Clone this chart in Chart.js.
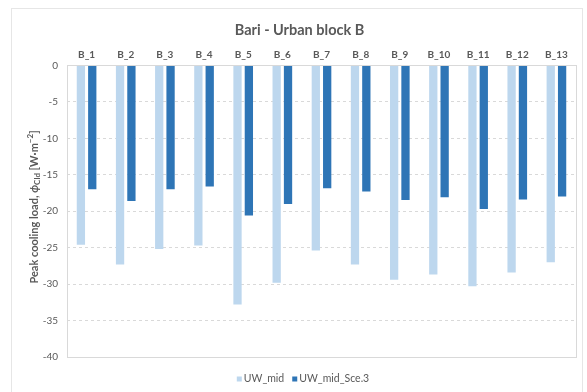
<!DOCTYPE html>
<html>
<head>
<meta charset="utf-8">
<script src="https://cdn.jsdelivr.net/npm/chart.js@4/dist/chart.umd.min.js"></script>
<style>
  html, body { margin: 0; padding: 0; background: #ffffff; }
  #wrap { width: 587px; height: 392px; position: relative; }
</style>
</head>
<body>
<div id="wrap"><canvas id="c" width="587" height="392"></canvas></div>
<script>
const categories = ["B_1","B_2","B_3","B_4","B_5","B_6","B_7","B_8","B_9","B_10","B_11","B_12","B_13"];
const uwMid = [-24.6,-27.3,-25.2,-24.7,-32.8,-29.8,-25.4,-27.3,-29.4,-28.7,-30.3,-28.4,-27.0];
const uwMidSce3 = [-17.0,-18.6,-17.0,-16.6,-20.6,-19.0,-16.85,-17.3,-18.45,-18.1,-19.7,-18.4,-18.0];
const seriesNames = ["UW_mid","UW_mid_Sce.3"];
const seriesColors = ["#BDD7EE","#2E75B6"];
const titleText = "Bari - Urban block B";
const yTicks = [0,-5,-10,-15,-20,-25,-30,-35,-40];

const FONT = "Lato, 'Open Sans', sans-serif";
const GRAY = "#595959";
const GRID = "#D9D9D9";

const framePlugin = {
  id: 'frame',
  beforeDraw(chart) {
    const ctx = chart.ctx;
    ctx.save();
    ctx.fillStyle = '#ffffff';
    ctx.fillRect(0, 0, chart.width, chart.height);
    ctx.strokeStyle = '#E6E6E6';
    ctx.lineWidth = 1;
    ctx.strokeRect(11.5, 8.5, 571, 400);
    ctx.restore();
  },
  afterDatasetsDraw(chart) {
    const a = chart.chartArea;
    const ctx = chart.ctx;
    ctx.save();
    ctx.strokeStyle = GRID;
    ctx.lineWidth = 1;
    ctx.strokeRect(Math.round(a.left) + 0.5, Math.round(a.top) + 0.5,
                   Math.round(a.right - a.left), Math.round(a.bottom - a.top));
    ctx.restore();
  },
  afterDraw(chart) {
    const a = chart.chartArea;
    const ctx = chart.ctx;
    // y-axis title with subscript / superscript
    const parts = [
      {t: "Peak cooling load, ", size: 11, style: "bold", dy: 0},
      {t: "ϕ", size: 11, style: "italic bold", dy: 0},
      {t: "Cld", size: 8, style: "bold", dy: 3},
      {t: " [W·m", size: 11, style: "bold", dy: 0},
      {t: "−2", size: 8, style: "bold", dy: -4},
      {t: "]", size: 11, style: "bold", dy: 0}
    ];
    ctx.save();
    let total = 0;
    parts.forEach(p => { ctx.font = p.style + " " + p.size + "px " + FONT; p.w = ctx.measureText(p.t).width; total += p.w; });
    const cx = 34, cy = 207;
    ctx.translate(cx, cy);
    ctx.rotate(-Math.PI / 2);
    ctx.fillStyle = GRAY;
    ctx.textBaseline = 'middle';
    ctx.textAlign = 'left';
    let x = -total / 2;
    parts.forEach(p => {
      ctx.font = p.style + " " + p.size + "px " + FONT;
      ctx.fillText(p.t, x, p.dy);
      x += p.w;
    });
    ctx.restore();

    // legend (bottom)
    ctx.save();
    const lf = "10.5px " + FONT;
    ctx.font = lf;
    const box = 5, gap = 2, itemGap = 8;
    const ds = chart.data.datasets;
    const widths = ds.map(d => ctx.measureText(d.label).width);
    let lw = 0;
    widths.forEach((w, i) => { lw += box + gap + w + (i < widths.length - 1 ? itemGap : 0); });
    let lx = 303 - lw / 2;
    const ly = 379;
    ctx.textBaseline = 'middle';
    ctx.textAlign = 'left';
    ds.forEach((d, i) => {
      ctx.fillStyle = d.backgroundColor;
      ctx.fillRect(lx, ly - box / 2, box, box);
      lx += box + gap;
      ctx.fillStyle = GRAY;
      ctx.fillText(d.label, lx, ly);
      lx += widths[i] + itemGap;
    });
    ctx.restore();
  }
};

new Chart(document.getElementById('c'), {
  type: 'bar',
  data: {
    labels: categories,
    datasets: [
      { label: seriesNames[0], data: uwMid, backgroundColor: seriesColors[0], borderWidth: 0 },
      { label: seriesNames[1], data: uwMidSce3, backgroundColor: seriesColors[1], borderWidth: 0 }
    ]
  },
  options: {
    responsive: false,
    animation: false,
    devicePixelRatio: 1,
    categoryPercentage: 0.58,
    barPercentage: 0.73,
    layout: { padding: { left: 23, right: 11, top: 0, bottom: 35 } },
    plugins: {
      title: {
        display: true,
        text: titleText,
        color: GRAY,
        font: { family: FONT, size: 14.5, weight: 'bold' },
        padding: { top: 22, bottom: 0 }
      },
      legend: { display: false },
      tooltip: { enabled: false }
    },
    scales: {
      x: {
        position: 'top',
        grid: { display: false, drawTicks: false },
        border: { display: false },
        ticks: {
          color: GRAY,
          font: { family: FONT, size: 10, weight: 'bold' },
          padding: 5,
          maxRotation: 0,
          autoSkip: false
        },
        afterFit(scale) { scale.height = 26; }
      },
      y: {
        min: -40,
        max: 0,
        grid: { color: GRID, lineWidth: 1, drawTicks: false },
        border: { display: false, dash: [3, 3] },
        ticks: {
          stepSize: 5,
          color: GRAY,
          font: { family: FONT, size: 10 },
          padding: 9,
          callback: (v) => yTicks.includes(v) ? String(v) : ''
        },
        afterFit(scale) { scale.width = 44; }
      }
    }
  },
  plugins: [framePlugin]
});
</script>
</body>
</html>
